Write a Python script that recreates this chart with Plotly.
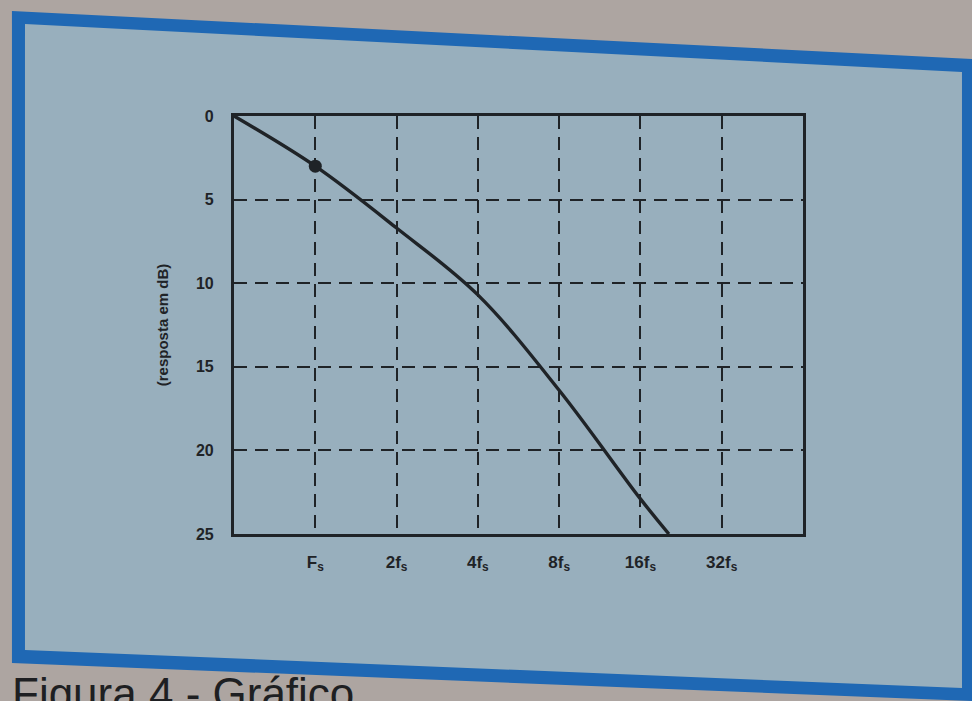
import math
import plotly.graph_objects as go

# Low-pass response, frequency in multiples of f_s, attenuation in dB
freq_mult = [0.5, 1, 2, 4, 8, 16, 20.4]
resp_db = [0.0, 3.0, 6.7, 10.7, 16.4, 22.9, 25.0]

# Cut-off point marked on the curve
cutoff_x = [1]
cutoff_y = [3.0]

x_tick_vals = [1, 2, 4, 8, 16, 32]
x_tick_text = ["F<sub>s</sub>", "2f<sub>s</sub>", "4f<sub>s</sub>",
               "8f<sub>s</sub>", "16f<sub>s</sub>", "32f<sub>s</sub>"]
y_tick_vals = [0, 5, 10, 15, 20, 25]

W, H = 972, 701
INK = "#1f2327"
PANEL = "#98afbd"
FRAME_BLUE = "#1f68b4"
PAPER = "#ada5a1"
LABEL_FONT = "Liberation Sans, Arial, sans-serif"


def px(x):
    return x / W


def py(y):
    return 1 - y / H


def quad(pts):
    return "M " + " L ".join(f"{px(x):.4f},{py(y):.4f}" for x, y in pts) + " Z"


fig = go.Figure()

fig.add_trace(go.Scatter(
    x=freq_mult, y=resp_db, mode="lines",
    line=dict(color=INK, width=3.4, shape="spline", smoothing=1.0),
    cliponaxis=True, hoverinfo="skip", showlegend=False,
))
fig.add_trace(go.Scatter(
    x=cutoff_x, y=cutoff_y, mode="markers",
    marker=dict(color=INK, size=13, symbol="circle"),
    hoverinfo="skip", showlegend=False,
))

plot_left, plot_right = 234, 803
plot_top, plot_bottom = 116, 534

fig.update_layout(
    width=W, height=H,
    margin=dict(l=0, r=0, t=0, b=0),
    paper_bgcolor=PAPER,
    plot_bgcolor="rgba(0,0,0,0)",
    font=dict(family=LABEL_FONT, color=INK),
    xaxis=dict(
        type="log",
        domain=[px(plot_left), px(plot_right)],
        range=[math.log10(0.5), math.log10(64)],
        tickvals=x_tick_vals, ticktext=x_tick_text,
        tickfont=dict(size=17, color=INK, weight="bold"),
        showgrid=True, gridcolor=INK, gridwidth=2.2, griddash="13px,8px",
        showline=True, linecolor=INK, linewidth=3.2, mirror=True,
        ticks="", ticklabelstandoff=10,
        zeroline=False, automargin=False,
    ),
    yaxis=dict(
        domain=[py(plot_bottom), py(plot_top)],
        range=[25, 0],
        tickvals=y_tick_vals,
        tickfont=dict(size=16, color=INK, weight="bold"),
        showgrid=True, gridcolor=INK, gridwidth=2.2, griddash="13px,8px",
        showline=True, linecolor=INK, linewidth=3.2, mirror=True,
        ticks="", ticklabelstandoff=14,
        zeroline=False, automargin=False,
        title=dict(text="(resposta em dB)",
                   font=dict(size=15, color=INK, weight="bold"), standoff=24),
    ),
    shapes=[
        dict(type="path", xref="paper", yref="paper", layer="below",
             path=quad([(12, 11), (972, 59), (972, 701), (12, 663)]),
             fillcolor=FRAME_BLUE, line=dict(width=0)),
        dict(type="path", xref="paper", yref="paper", layer="below",
             path=quad([(25, 24), (962, 72), (962, 688), (25, 650)]),
             fillcolor=PANEL, line=dict(width=0)),
    ],
    annotations=[
        dict(text="Figura 4 - Gráfico", xref="paper", yref="paper",
             x=px(10), y=py(667), xanchor="left", yanchor="top",
             showarrow=False, font=dict(size=44, color="#1e1f22")),
    ],
)

fig.write_html("out.html")
